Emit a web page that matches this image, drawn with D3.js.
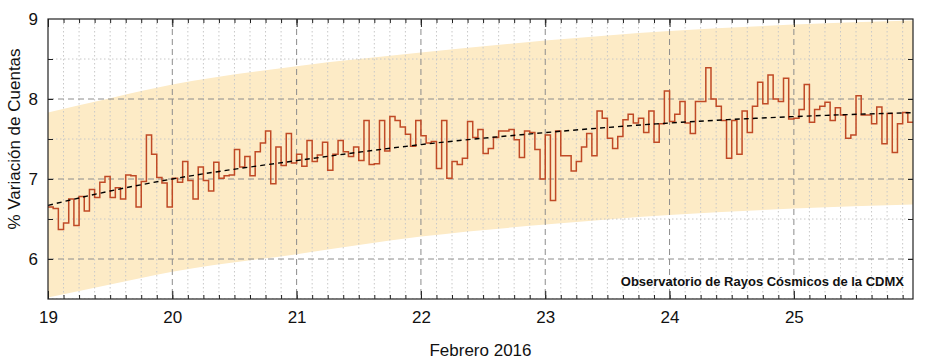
<!DOCTYPE html>
<html>
<head>
<meta charset="utf-8">
<script src="https://cdn.jsdelivr.net/npm/d3@7"></script>
<style>
  html, body { margin: 0; padding: 0; background: #fff; }
  svg { display: block; font-family: "Liberation Sans", Arial, sans-serif; }
</style>
</head>
<body>
<svg id="chart" width="925" height="360"></svg>
<script>
// ---- Data (hourly % variation, 19 Feb 00:00 .. 25 Feb 23:00, 2016) ----
const startDay = 19;
const values = [
  6.65, 6.63, 6.37, 6.45, 6.75, 6.42, 6.78, 6.60, 6.87, 6.77, 6.96, 7.03,
  6.77, 6.89, 6.75, 7.05, 7.04, 6.65, 6.97, 7.55, 7.31, 7.02, 6.95, 6.65,
  7.01, 6.96, 7.22, 6.98, 6.75, 7.15, 6.98, 6.85, 7.21, 7.01, 7.04, 7.05,
  7.37, 7.15, 7.28, 7.04, 7.34, 7.45, 7.60, 6.94, 7.40, 7.17, 7.57, 7.20,
  7.31, 7.16, 7.48, 7.22, 7.30, 7.46, 7.11, 7.31, 7.48, 7.34, 7.28, 7.40,
  7.23, 7.73, 7.18, 7.19, 7.73, 7.35, 7.78, 7.73, 7.65, 7.56, 7.41, 7.73,
  7.54, 7.45, 7.47, 7.13, 7.73, 7.01, 7.22, 7.18, 7.26, 7.72, 7.52, 7.62,
  7.32, 7.38, 7.52, 7.60, 7.60, 7.62, 7.49, 7.27, 7.60, 7.58, 7.37, 7.00,
  7.55, 6.73, 7.60, 7.29, 7.29, 7.10, 7.22, 7.40, 7.57, 7.29, 7.85, 7.76,
  7.51, 7.38, 7.53, 7.74, 7.81, 7.70, 7.76, 7.58, 7.85, 7.46, 7.69, 8.10,
  7.72, 7.81, 7.97, 7.70, 7.57, 7.97, 7.97, 8.39, 8.00, 7.91, 7.73, 7.26,
  7.73, 7.31, 7.85, 7.58, 7.91, 8.21, 7.94, 8.30, 8.00, 7.97, 8.26, 7.75,
  7.76, 7.87, 8.18, 7.71, 7.87, 7.91, 7.96, 7.73, 7.89, 7.80, 7.51, 7.55,
  8.04, 7.80, 7.80, 7.69, 7.90, 7.44, 7.82, 7.33, 7.69, 7.83, 7.71, 7.71
];
// Trend line and its band, read at a few days
const bandDays  = [19,   19.5, 20,   21,   22,   23,   24,   25,   25.96];
const trendVals = [6.67, 6.85, 7.00, 7.23, 7.43, 7.58, 7.70, 7.78, 7.83];
const bandUpper = [7.83, 8.01, 8.18, 8.41, 8.58, 8.73, 8.85, 8.93, 8.98];
const bandLower = [5.52, 5.68, 5.84, 6.06, 6.28, 6.43, 6.55, 6.63, 6.68];
// Tick labels
const xTickDays = [19, 20, 21, 22, 23, 24, 25];
const yTickVals = [6, 7, 8, 9];
const xTitle = "Febrero 2016";
const yTitle = "% Variación de Cuentas";
const credit = "Observatorio de Rayos Cósmicos de la CDMX";

// ---- Layout ----
const L = 48, R = 913, T = 19, B = 299;
const svg = d3.select("#chart");
const x = d3.scaleLinear().domain([19, 25 + 23 / 24]).range([L, R]);
const y = d3.scaleLinear().domain([5.5, 9]).range([B, T]);

svg.append("defs").append("clipPath").attr("id", "clip")
  .append("rect").attr("x", L).attr("y", T).attr("width", R - L).attr("height", B - T);

const plot = svg.append("g").attr("clip-path", "url(#clip)");

// band
const bandData = bandDays.map((d, i) => ({ d, u: bandUpper[i], l: bandLower[i], t: trendVals[i] }));
plot.append("path")
  .datum(bandData)
  .attr("fill", "#fdebc6")
  .attr("d", d3.area().curve(d3.curveMonotoneX)
    .x(p => x(p.d)).y0(p => y(p.l)).y1(p => y(p.u)));

// minor grid
const minorX = d3.range(0, 7 * 8 + 1).map(k => 19 + k / 8).filter(v => Math.abs(v - Math.round(v)) > 1e-6);
const minorY = [5.5, 6.5, 7.5, 8.5];
plot.append("g").selectAll("line").data(minorX).join("line")
  .attr("x1", d => x(d)).attr("x2", d => x(d)).attr("y1", T).attr("y2", B)
  .attr("stroke", "#c8c8c8").attr("stroke-width", 1).attr("stroke-dasharray", "1.5,2.5");
plot.append("g").selectAll("line").data(minorY).join("line")
  .attr("x1", L).attr("x2", R).attr("y1", d => y(d)).attr("y2", d => y(d))
  .attr("stroke", "#c8c8c8").attr("stroke-width", 1).attr("stroke-dasharray", "1.5,2.5");
// major grid
plot.append("g").selectAll("line").data(xTickDays.slice(1)).join("line")
  .attr("x1", d => x(d)).attr("x2", d => x(d)).attr("y1", T).attr("y2", B)
  .attr("stroke", "#8c8c8c").attr("stroke-width", 1).attr("stroke-dasharray", "6,4");
plot.append("g").selectAll("line").data([6, 7, 8]).join("line")
  .attr("x1", L).attr("x2", R).attr("y1", d => y(d)).attr("y2", d => y(d))
  .attr("stroke", "#8c8c8c").attr("stroke-width", 1).attr("stroke-dasharray", "6,4");

// data step line
const pts = values.map((v, i) => ({ d: startDay + i / 24, v }));
plot.append("path")
  .datum(pts)
  .attr("fill", "none")
  .attr("stroke", "#c04a26")
  .attr("stroke-width", 1.5)
  .attr("d", d3.line().curve(d3.curveStepAfter).x(p => x(p.d)).y(p => y(p.v)));

// trend
plot.append("path")
  .datum(bandData)
  .attr("fill", "none")
  .attr("stroke", "#000")
  .attr("stroke-width", 1.4)
  .attr("stroke-dasharray", "5,4")
  .attr("d", d3.line().curve(d3.curveMonotoneX).x(p => x(p.d)).y(p => y(p.t)));

// axes (ticks inside, gnuplot-like)
const minorTickX = d3.range(0, 7 * 8).map(k => 19 + k / 8);
const axB = d3.axisBottom(x).tickValues(minorTickX).tickSize(-4).tickFormat("");
const axT = d3.axisTop(x).tickValues(minorTickX).tickSize(-4).tickFormat("");
svg.append("g").attr("transform", `translate(0,${B})`).call(axB);
svg.append("g").attr("transform", `translate(0,${T})`).call(axT);
svg.append("g").attr("transform", `translate(0,${B})`)
  .call(d3.axisBottom(x).tickValues(xTickDays).tickSize(-8).tickPadding(12)
    .tickFormat(d => String(d)))
  .call(g => g.selectAll("text").attr("font-size", 17).attr("fill", "#111")
    .attr("font-family", "Liberation Sans, Arial, sans-serif"));
svg.append("g").attr("transform", `translate(0,${T})`)
  .call(d3.axisTop(x).tickValues(xTickDays).tickSize(-8).tickFormat(""));
const yMinor = [6, 6.5, 7, 7.5, 8, 8.5];
svg.append("g").attr("transform", `translate(${L},0)`)
  .call(d3.axisLeft(y).tickValues(yMinor).tickSize(-5).tickFormat(""));
svg.append("g").attr("transform", `translate(${R},0)`)
  .call(d3.axisRight(y).tickValues(yMinor).tickSize(-5).tickFormat(""));
svg.append("g").attr("transform", `translate(${L},0)`)
  .call(d3.axisLeft(y).tickValues(yTickVals).tickSize(0).tickPadding(10)
    .tickFormat(d => String(d)))
  .call(g => g.selectAll("text").attr("font-size", 17).attr("fill", "#111")
    .attr("font-family", "Liberation Sans, Arial, sans-serif"));
svg.selectAll(".domain").remove();
svg.selectAll(".tick line").attr("stroke", "#222");

// frame
svg.append("rect").attr("x", L).attr("y", T).attr("width", R - L).attr("height", B - T)
  .attr("fill", "none").attr("stroke", "#222").attr("stroke-width", 1.2);

// titles
svg.append("text").attr("x", (L + R) / 2).attr("y", 356).attr("text-anchor", "middle")
  .attr("font-size", 17).attr("fill", "#111").text(xTitle);
svg.append("text").attr("transform", "translate(20,139) rotate(-90)").attr("text-anchor", "middle")
  .attr("font-size", 17).attr("fill", "#111").text(yTitle);
svg.append("text").attr("x", 904).attr("y", 286).attr("text-anchor", "end")
  .attr("font-size", 13).attr("font-weight", "bold").attr("fill", "#111").text(credit);
</script>
</body>
</html>
